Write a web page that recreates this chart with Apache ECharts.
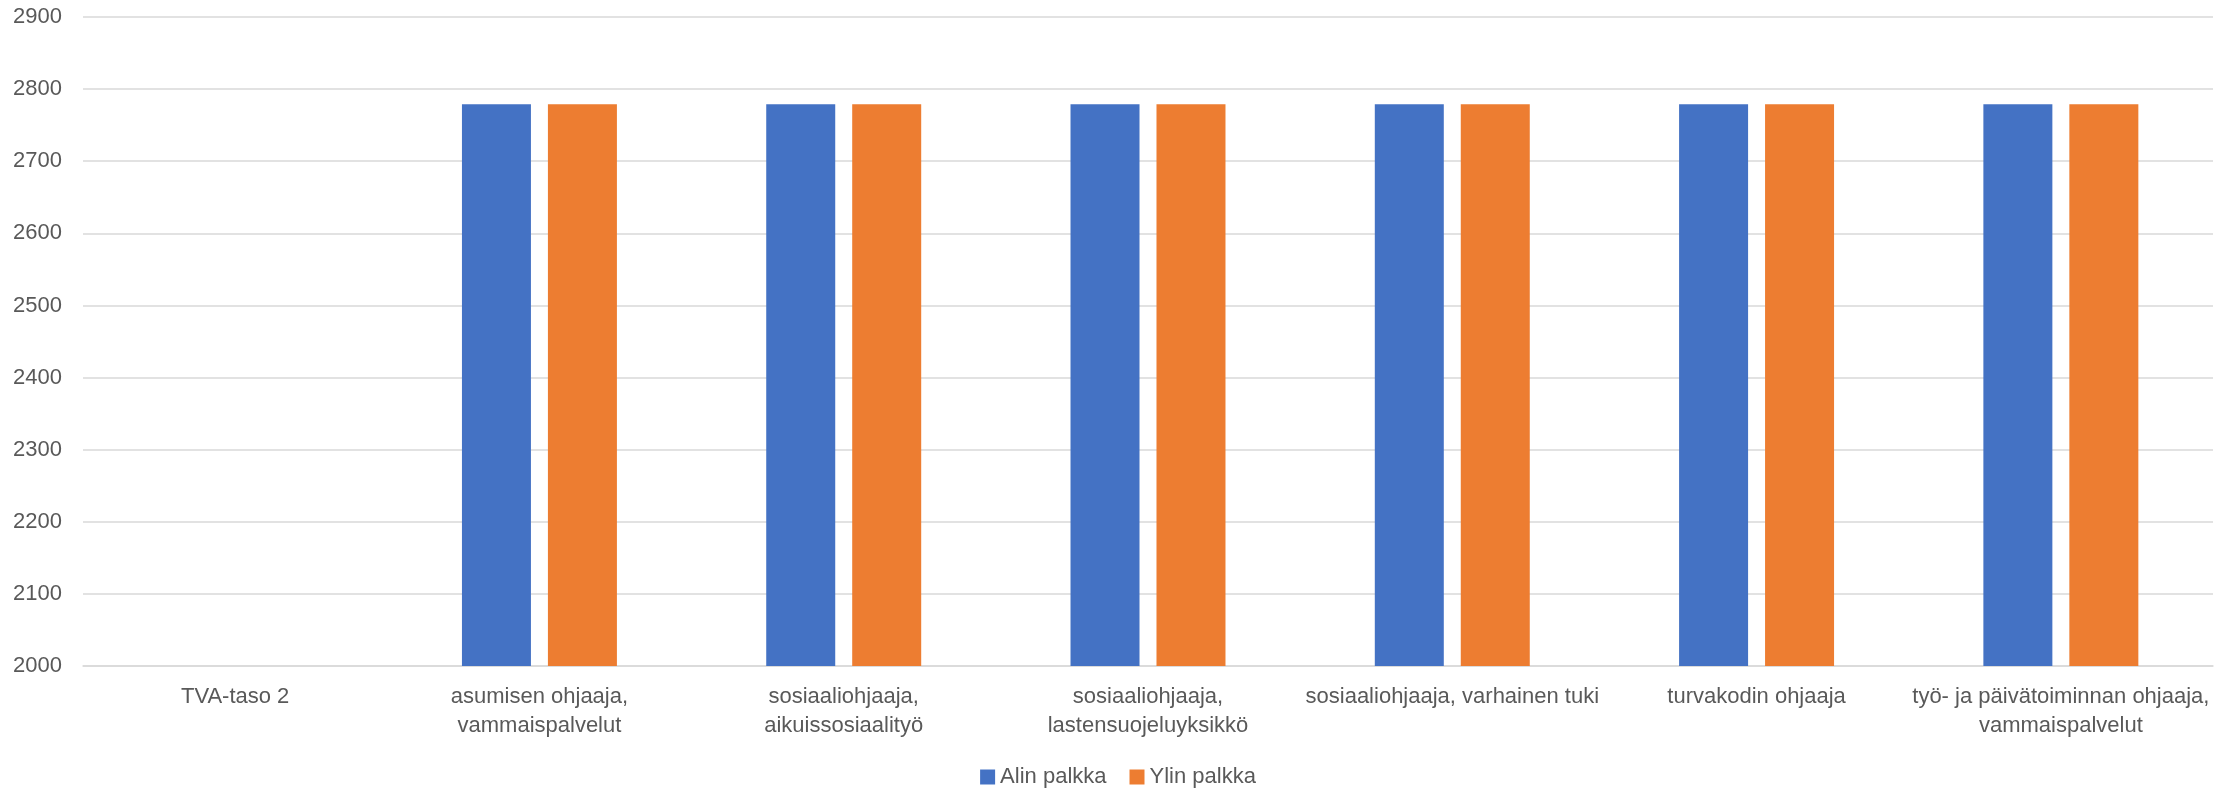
<!DOCTYPE html>
<html>
<head>
<meta charset="utf-8">
<script src="https://cdn.jsdelivr.net/npm/echarts@6/dist/echarts.min.js"></script>
<style>
html,body{margin:0;padding:0;background:#fff;}
#c{width:2236px;height:790px;}
</style>
</head>
<body>
<div id="c"></div>
<script>
const categories = [
  "TVA-taso 2",
  "asumisen ohjaaja,\nvammaispalvelut",
  "sosiaaliohjaaja,\naikuissosiaalityö",
  "sosiaaliohjaaja,\nlastensuojeluyksikkö",
  "sosiaaliohjaaja, varhainen tuki",
  "turvakodin ohjaaja",
  "työ- ja päivätoiminnan ohjaaja,\nvammaispalvelut"
];
const seriesNames = ["Alin palkka", "Ylin palkka"];
const alinPalkka = [null, 2779, 2779, 2779, 2779, 2779, 2779];
const ylinPalkka = [null, 2779, 2779, 2779, 2779, 2779, 2779];
const yMin = 2000, yMax = 2900, yStep = 100;

const textColor = "#595959";
const font = "Liberation Sans";
const chart = echarts.init(document.getElementById("c"), null, {renderer: "canvas"});
chart.setOption({
  animation: false,
  backgroundColor: "#fff",
  grid: {left: 83, right: 23, top: 17, bottom: 124, containLabel: false},
  legend: {
    top: 764, left: "center", padding: 0,
    itemWidth: 15, itemHeight: 15, itemGap: 23,
    icon: "rect",
    textStyle: {color: textColor, fontSize: 22, fontFamily: font, lineHeight: 26, padding: [0,0,0,0]},
    data: seriesNames
  },
  xAxis: {
    type: "category",
    data: categories,
    axisLine: {show: true, lineStyle: {color: "#D9D9D9", width: 1.5}},
    axisTick: {show: false},
    axisLabel: {interval: 0, color: textColor, fontSize: 22, fontFamily: font, lineHeight: 29, margin: 16}
  },
  yAxis: {
    type: "value",
    min: yMin, max: yMax, interval: yStep,
    axisLine: {show: false},
    axisTick: {show: false},
    splitLine: {lineStyle: {color: "#D9D9D9", width: 1.5}},
    axisLabel: {color: textColor, fontSize: 22, fontFamily: font, margin: 21, formatter: v => String(v)}
  },
  series: [
    {name: seriesNames[0], type: "bar", data: alinPalkka, barWidth: 69, barGap: "24.6%", itemStyle: {color: "#4472C4"}},
    {name: seriesNames[1], type: "bar", data: ylinPalkka, barWidth: 69, barGap: "24.6%", itemStyle: {color: "#ED7D31"}}
  ]
});
</script>
</body>
</html>
